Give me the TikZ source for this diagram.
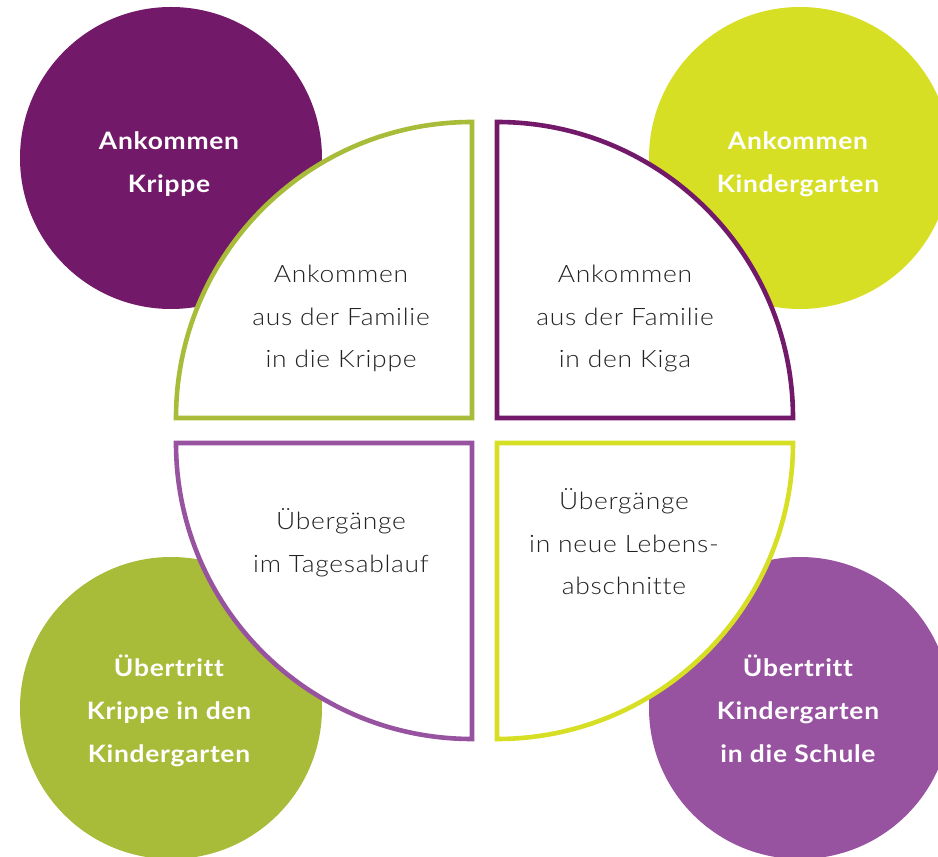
\documentclass[tikz,border=0pt]{standalone}
\usepackage{fontspec}
\setmainfont{Lato}[FakeStretch=1.1, LetterSpace=3, Ligatures=CommonOff]
\newfontfamily\lightfont{Lato Light}[FakeStretch=1.1, LetterSpace=3, Ligatures=CommonOff]
\definecolor{plum}{RGB}{114,26,105}
\definecolor{lime}{RGB}{214,223,35}
\definecolor{olive}{RGB}{168,188,57}
\definecolor{violet}{RGB}{151,82,160}
\definecolor{ink}{RGB}{34,34,34}
\newcommand{\lines}[1]{\begin{tabular}[t]{@{}c@{}}#1\end{tabular}}
\begin{document}
\begin{tikzpicture}[x=1pt,y=1pt,
  bubble/.style={circle, minimum size=302pt, inner sep=0pt, draw=none},
  quarter/.style={draw=#1, fill=white, line width=4.6pt, line join=miter},
  bubbletext/.style={anchor=base, inner sep=0pt, text=white,
    font=\fontsize{24}{43}\selectfont\bfseries},
  quartertext/.style={anchor=base, inner sep=0pt, text=ink,
    font=\lightfont\fontsize{24}{42.5}\selectfont}]
\useasboundingbox (0,0) rectangle (938,857);
\clip (0,0) rectangle (938,857);

% corner circles
\node[bubble, fill=plum]   (ankKrippe) at (171,699) {};
\node[bubble, fill=lime]   (ankKiga)   at (800,699) {};
\node[bubble, fill=olive]  (uebKrippe) at (171,149) {};
\node[bubble, fill=violet] (uebKiga)   at (800,149) {};

% four quarter discs around the centre
\draw[quarter=olive]  (472,439) -- (176,439) arc[start angle=180, end angle=90, radius=296] -- cycle;
\draw[quarter=plum]   (497,439) -- (497,735) arc[start angle=90, end angle=0, radius=296] -- cycle;
\draw[quarter=violet] (472,414) -- (176,414) arc[start angle=180, end angle=270, radius=296] -- cycle;
\draw[quarter=lime]   (497,414) -- (793,414) arc[start angle=0, end angle=-90, radius=296] -- cycle;

% circle labels
\node[bubbletext] (tKrippe) at (169,707) {\lines{Ankommen\\Krippe}};
\node[bubbletext] (tKiga)   at (798,707) {\lines{Ankommen\\Kindergarten}};
\node[bubbletext] (tUeb1)   at (169,180) {\lines{Übertritt\\Krippe in den\\Kindergarten}};
\node[bubbletext] (tUeb2)   at (798,180) {\lines{Übertritt\\Kindergarten\\in die Schule}};

% quarter labels
\node[quartertext] (q1) at (341,574) {\lines{Ankommen\\aus der Familie\\in die Krippe}};
\node[quartertext] (q2) at (625,574) {\lines{Ankommen\\aus der Familie\\in den Kiga}};
\node[quartertext] (q3) at (341,327) {\lines{Übergänge\\im Tagesablauf}};
\node[quartertext] (q4) at (624,347) {\lines{Übergänge\\in neue Lebens-\\abschnitte}};
\end{tikzpicture}
\end{document}
